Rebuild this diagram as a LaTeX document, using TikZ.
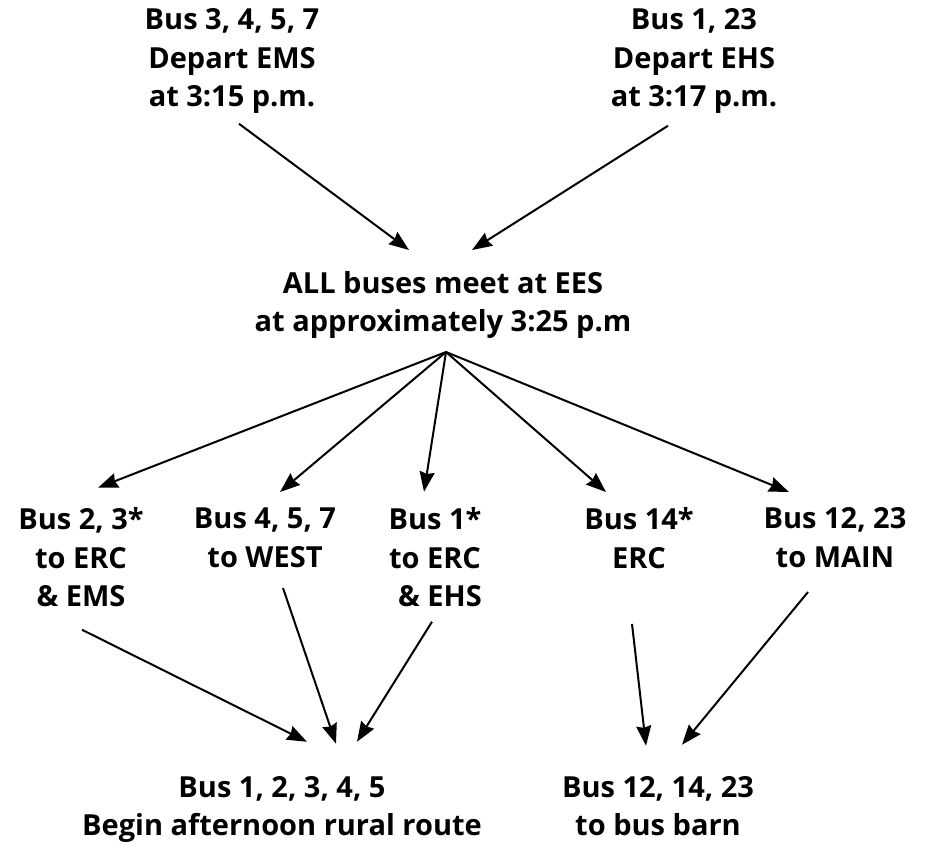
\documentclass[tikz,border=0pt]{standalone}
\usepackage{fontspec}
\setmainfont{Open Sans}
\usetikzlibrary{arrows.meta}
\tikzstyle{busnote} = [align=center, inner sep=0pt, font=\bfseries\fontsize{29}{38.5}\selectfont, execute at begin node=\strut, execute at end node=\strut]
\tikzstyle{arrow} = [line width=2pt, -{Stealth[length=20pt, width=15pt, inset=2pt]}]

\begin{document}
\begin{tikzpicture}[x=1pt, y=-1pt]
	\useasboundingbox (0,0) rectangle (928,847);

	\node (ems) [busnote] at (232,63.75) {Bus 3, 4, 5, 7\\Depart EMS\\at 3:15 p.m.};
	\node (ehs) [busnote] at (694,63.75) {Bus 1, 23\\Depart EHS\\at 3:17 p.m.};
	\node (ees) [busnote] at (443,307) {ALL buses meet at EES\\at approximately 3:25 p.m};

	\node (r1) [busnote] at (81,562.75) {Bus 2, 3*\\to ERC\\\& EMS\hspace{12pt}};
	\node (r2) [busnote] at (265,543.5) {Bus 4, 5, 7\\to WEST};
	\node (r3) [busnote] at (435,562.75) {Bus 1*\\to ERC\\\hspace{10pt}\& EHS};
	\node (r4) [busnote] at (639,543.5) {Bus 14*\\ERC};
	\node (r5) [busnote] at (835,543.5) {Bus 12, 23\\to MAIN};

	\node (rural) [busnote] at (282,811.75) {Bus 1, 2, 3, 4, 5\\Begin afternoon rural route};
	\node (barn) [busnote] at (658,811.75) {Bus 12, 14, 23\\to bus barn};

	\draw [arrow] ([shift={(7,60)}]ems.center) -- ([shift={(-34,-57)}]ees.center);
	\draw [arrow] ([shift={(-26,62)}]ehs.center) -- ([shift={(29,-57)}]ees.center);

	\draw [arrow] ([shift={(3,45)}]ees.center) -- ([shift={(17,-75)}]r1.center);
	\draw [arrow] ([shift={(3,45)}]ees.center) -- ([shift={(15,-51.5)}]r2.center);
	\draw [arrow] ([shift={(3,45)}]ees.center) -- ([shift={(-11,-71)}]r3.center);
	\draw [arrow] ([shift={(3,45)}]ees.center) -- ([shift={(-33,-51.5)}]r4.center);
	\draw [arrow] ([shift={(3,45)}]ees.center) -- ([shift={(-46,-51.5)}]r5.center);

	\draw [arrow] ([shift={(1,67)}]r1.center) -- ([shift={(25,-70)}]rural.center);
	\draw [arrow] ([shift={(18,44.5)}]r2.center) -- ([shift={(54,-68)}]rural.center);
	\draw [arrow] ([shift={(-3,59)}]r3.center) -- ([shift={(75,-70)}]rural.center);
	\draw [arrow] ([shift={(-7,80.5)}]r4.center) -- ([shift={(-12,-66)}]barn.center);
	\draw [arrow] ([shift={(-27,48.5)}]r5.center) -- ([shift={(24,-67)}]barn.center);
\end{tikzpicture}
\end{document}
